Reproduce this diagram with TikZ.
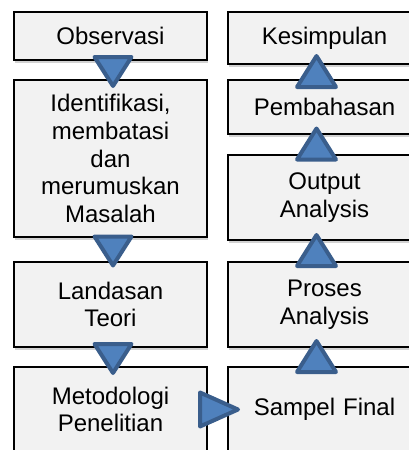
\documentclass[tikz,border=0pt]{standalone}
\usepackage{fontspec}
\setmainfont{Liberation Sans}
\usepackage{tikz}
\usetikzlibrary{calc, positioning, shapes.geometric, shadows}
\definecolor{boxfill}{HTML}{F2F2F2}
\definecolor{trifill}{HTML}{4F81BD}
\definecolor{triline}{HTML}{3A5E8C}

\begin{document}
\begin{tikzpicture}[x=1pt, y=1pt, node distance=20pt,
    box/.style={draw=black, line width=1.3pt, fill=boxfill, outer sep=0pt,
      minimum width=193pt, text width=185pt, inner sep=0pt, align=center,
      font=\fontsize{24}{27.6}\selectfont,
      drop shadow={shadow xshift=0.5pt, shadow yshift=-3pt, opacity=0.35}},
    tri/.style={isosceles triangle, isosceles triangle stretches, inner sep=0pt, outer sep=0pt,
      fill=trifill, draw=triline, line width=4pt, line join=round, anchor=apex},
    tridown/.style={tri, shape border rotate=270, minimum width=37pt, minimum height=29pt, xshift=2.5pt, yshift=-16pt},
    triup/.style={tri, shape border rotate=90, minimum width=39pt, minimum height=31pt, xshift=-8pt, yshift=16pt},
    triright/.style={tri, minimum width=34pt, minimum height=38pt, xshift=20.5pt}]
    \useasboundingbox (0,0) rectangle (409,-450);
    \clip (0,0) rectangle (409,-450);
    \fill[white] (0,0) rectangle (409,-450);

    \node[box, minimum height=48pt] (obs) at (110.5,-36) {Observasi};
    \node[box, minimum height=157pt, below=of obs] (ident) {Identifikasi,\\ membatasi\\ dan\\ merumuskan\\ Masalah};
    \node[box, minimum height=85pt, below=25pt of ident] (landasan) {Landasan\\ Teori};
    \node[box, minimum height=85pt, below=of landasan] (metode) {Metodologi\\ Penelitian};

    \node[box, minimum height=52pt, right=21pt of obs.north east, anchor=north west] (kesimpulan) {Kesimpulan};
    \node[box, minimum height=54pt, below=16pt of kesimpulan] (pembahasan) {Pembahasan};
    \node[box, minimum height=85pt, below=21pt of pembahasan] (output) {Output\\ Analysis};
    \node[box, minimum height=85pt, below=22pt of output] (proses) {Proses\\ Analysis};
    \node[box, minimum height=85pt, below=of proses] (sampel) {Sampel Final};

    \node[tridown] (a1) at ($(obs.south)!.5!(ident.north)$) {};
    \node[tridown] (a2) at ($(ident.south)!.5!(landasan.north)$) {};
    \node[tridown] (a3) at ($(landasan.south)!.5!(metode.north)$) {};
    \node[triright] (a4) at ($(metode.east)!.5!(sampel.west)$) {};
    \node[triup] (a5) at ($(sampel.north)!.5!(proses.south)$) {};
    \node[triup] (a6) at ($(proses.north)!.5!(output.south)$) {};
    \node[triup] (a7) at ($(output.north)!.5!(pembahasan.south)$) {};
    \node[triup] (a8) at ($(pembahasan.north)!.5!(kesimpulan.south)$) {};
\end{tikzpicture}
\end{document}
